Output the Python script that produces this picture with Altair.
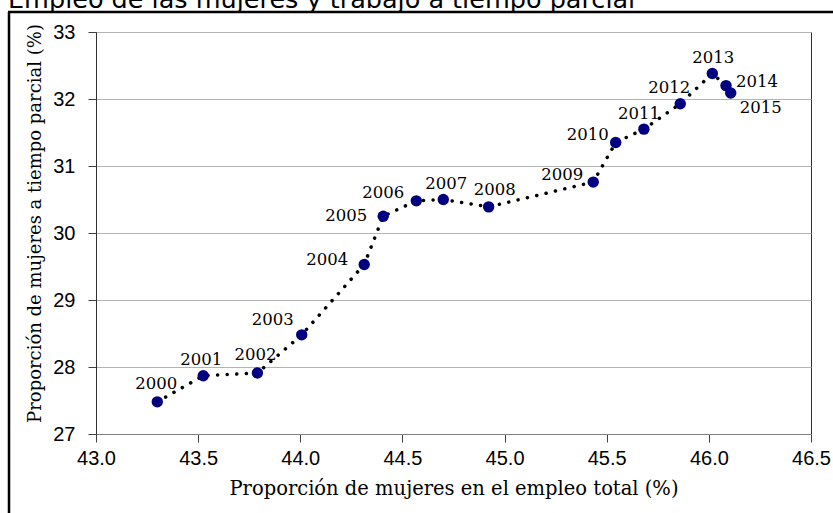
import altair as alt
import pandas as pd

# ---- data ----
years = [2000, 2001, 2002, 2003, 2004, 2005, 2006, 2007,
         2008, 2009, 2010, 2011, 2012, 2013, 2014, 2015]
share_employment = [43.30, 43.525, 43.79, 44.007, 44.313, 44.406, 44.568, 44.70,
                    44.922, 45.434, 45.544, 45.682, 45.86, 46.017, 46.084, 46.107]
share_part_time = [27.48, 27.87, 27.91, 28.48, 29.53, 30.25, 30.48, 30.50,
                   30.39, 30.76, 31.35, 31.55, 31.93, 32.38, 32.20, 32.09]

# label placement (pixel offsets of each year label from its point)
label_dx = [-1, -2, -2, -29, -37, -37, -33, 3, 6, -31, -28, -5, -11, 1, 31, 30]
label_dy = [-18, -16, -18, -15, -4, 0, -8, -16, -17, -7, -8, -15, -16, -16, -4, 15]

x_ticks = [43.0, 43.5, 44.0, 44.5, 45.0, 45.5, 46.0, 46.5]
y_ticks = [27, 28, 29, 30, 31, 32, 33]

title_text = "Empleo de las mujeres y trabajo a tiempo parcial"
x_title = "Proporción de mujeres en el empleo total (%)"
y_title = "Proporción de mujeres a tiempo parcial (%)"

df = pd.DataFrame({
    "year": years,
    "x": share_employment,
    "y": share_part_time,
    "label": [str(v) for v in years],
})

W, H = 715, 402
PAD = {"left": 96, "top": 32, "right": 22, "bottom": 79}

xs = alt.Scale(domain=[43.0, 46.5], nice=False, zero=False)
ys = alt.Scale(domain=[27, 33], nice=False, zero=False)

x_axis = alt.Axis(values=x_ticks, format=".1f", grid=False, title=x_title,
                  domainColor="#808080", tickColor="#404040", tickSize=8,
                  labelPadding=6, titlePadding=11, labelFlush=False,
                  titleFontSize=19.5)
y_axis = alt.Axis(values=y_ticks, format="d", grid=True, gridColor="#b4b4b4",
                  title=y_title, domainColor="#303030", tickColor="#404040",
                  tickSize=8, labelPadding=13, titlePadding=8, titleY=191,
                  titleFontSize=18)

base = alt.Chart(df)

line = base.mark_line(color="black", strokeWidth=3.5, strokeCap="round",
                      strokeDash=[0.1, 9.5]).encode(
    x=alt.X("x:Q", scale=xs, axis=x_axis),
    y=alt.Y("y:Q", scale=ys, axis=y_axis),
    order=alt.Order("year:Q"),
)

points = base.mark_circle(color="#000080", opacity=1, size=130).encode(
    x=alt.X("x:Q", scale=xs),
    y=alt.Y("y:Q", scale=ys),
)

label_layers = []
for yr, dx, dy in zip(years, label_dx, label_dy):
    label_layers.append(
        base.transform_filter(alt.datum.year == yr).mark_text(
            font="DejaVu Serif", fontSize=16.5, color="black",
            align="center", baseline="middle", dx=dx, dy=dy).encode(
            x=alt.X("x:Q", scale=xs),
            y=alt.Y("y:Q", scale=ys),
            text="label:N",
        )
    )

title_mark = alt.Chart(pd.DataFrame({"t": [title_text]})).mark_text(
    font="DejaVu Sans", fontSize=25.5, color="black", align="left",
    baseline="alphabetic").encode(
    x=alt.value(-88), y=alt.value(-24), text="t:N")

frame_left = alt.Chart(pd.DataFrame({"a": [0]})).mark_rule(
    color="black", strokeWidth=2.5).encode(
    x=alt.value(-87), y=alt.value(-20), y2=alt.value(H + PAD["bottom"] + 5))
frame_top = alt.Chart(pd.DataFrame({"a": [0]})).mark_rule(
    color="black", strokeWidth=2.5).encode(
    y=alt.value(-20), x=alt.value(-88), x2=alt.value(W + PAD["right"] + 5))

chart = alt.layer(line, points, *label_layers, title_mark, frame_left, frame_top).properties(
    width=W, height=H,
    autosize=alt.AutoSizeParams(type="none"),
    padding=PAD,
    background="white",
).configure_view(
    stroke="#303030", strokeWidth=1
).configure_axis(
    labelFont="Liberation Sans", labelFontSize=20, labelColor="black",
    titleFont="DejaVu Serif", titleFontWeight="normal",
    titleColor="black", domainWidth=1, tickWidth=1, gridWidth=1,
)

chart.save("out.html", embed_options={"renderer": "svg", "actions": False})
